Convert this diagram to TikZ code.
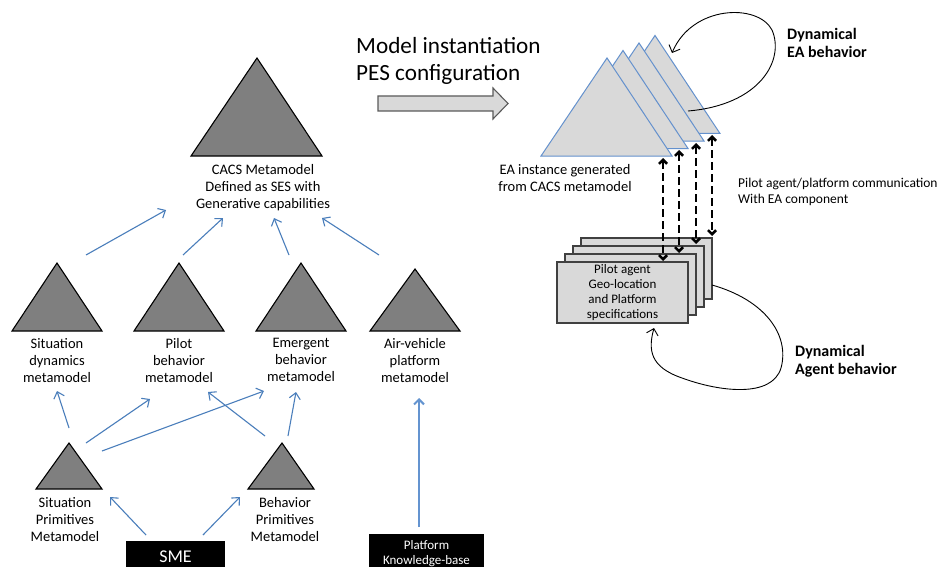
\documentclass[tikz,border=0pt]{standalone}
\usepackage{fontspec}
\setmainfont{Carlito}
\usetikzlibrary{arrows.meta}
\definecolor{arrblue}{RGB}{74,126,187}
\definecolor{lightblue}{RGB}{100,148,208}
\definecolor{tribl}{RGB}{100,145,205}
\definecolor{darkfill}{RGB}{127,127,127}
\definecolor{lightfill}{RGB}{217,217,217}
\definecolor{outl}{RGB}{64,64,64}
\definecolor{blkout}{RGB}{90,90,90}
\begin{document}
\begin{tikzpicture}[x=1pt,y=-1pt,
 darktri/.style={fill=darkfill,draw=black,line width=1.1pt},
 eatri/.style={fill=lightfill,draw=tribl,line width=1pt},
 link/.style={draw=arrblue,line width=1.1pt,-{Straight Barb[length=6pt,width=11pt]}},
 thicklink/.style={draw=lightblue,line width=2pt,-{Straight Barb[length=5pt,width=10pt]}},
 lbl/.style={align=center,inner sep=0pt,font=\fontsize{14.5}{17}\selectfont,anchor=north},
 boldlbl/.style={align=left,inner sep=0pt,font=\fontsize{16}{18.5}\selectfont\bfseries,anchor=north west},
 stackbox/.style={fill=lightfill,draw=outl,line width=1.1pt},
 comm/.style={black,line width=2.6pt,dash pattern=on 8pt off 4pt,{Straight Barb[length=4pt,width=8pt]}-{Straight Barb[length=4pt,width=8pt]}},
 loopline/.style={black,line width=0.9pt,-{Straight Barb[length=6pt,width=12pt]}}
]
\useasboundingbox (0,0) rectangle (939,567);
\fill[white] (0,0) rectangle (939,567);

% ---------- left: metamodel hierarchy ----------
\draw[darktri] (257,58) coordinate (cacsTop) -- (322,156) -- (191,156) -- cycle;
\node[lbl] (cacs) at (263,164) {CACS Metamodel\\Defined as SES with\\Generative capabilities};

\draw[darktri] (57,263) -- (102,331) -- (12,331) -- cycle;
\draw[darktri] (179,263) -- (224,331) -- (134,331) -- cycle;
\draw[darktri] (301,263) -- (346,331) -- (256,331) -- cycle;
\draw[darktri] (415,269) -- (460,331) -- (370,331) -- cycle;
\node[lbl] (sdm) at (57,338) {Situation\\dynamics\\metamodel};
\node[lbl] (pbm) at (179,338) {Pilot\\behavior\\metamodel};
\node[lbl] (ebm) at (301,338) {Emergent\\behavior\\metamodel};
\node[lbl] (avm) at (415,338) {Air-vehicle\\platform\\metamodel};

\draw[darktri] (69,443) -- (102,489) -- (36,489) -- cycle;
\draw[darktri] (282,443) -- (314,489) -- (248,489) -- cycle;
\node[lbl] (spm) at (65,497) {Situation\\Primitives\\Metamodel};
\node[lbl] (bpm) at (285,497) {Behavior\\Primitives\\Metamodel};

\fill[black] (126,541) rectangle (225,575);
\node[inner sep=0pt,text=white,font=\fontsize{18}{20}\selectfont] (sme) at (175.5,557) {SME};
\fill[black] (369,534) rectangle (484,575);
\node[inner sep=0pt,text=white,align=center,font=\fontsize{13}{15}\selectfont,anchor=north] (pkb) at (426.5,540) {Platform\\Knowledge-base};

% arrow end points
\coordinate (u1s) at (86,255);  \coordinate (u1e) at (166,210);
\coordinate (u2s) at (183,255); \coordinate (u2e) at (223,218);
\coordinate (u3s) at (289,255); \coordinate (u3e) at (274,218);
\coordinate (u4s) at (379,255); \coordinate (u4e) at (322,218);
\coordinate (m1s) at (69,428);  \coordinate (m1e) at (57,391);
\coordinate (m2s) at (86,443);  \coordinate (m2e) at (150,399);
\coordinate (m3s) at (102,451); \coordinate (m3e) at (264,391);
\coordinate (m4s) at (265,436); \coordinate (m4e) at (208,392);
\coordinate (m5s) at (288,436); \coordinate (m5e) at (296,392);
\coordinate (s1s) at (146,535); \coordinate (s1e) at (110,497);
\coordinate (s2s) at (203,535); \coordinate (s2e) at (240,497);
\foreach \a in {u1,u2,u3,u4,m1,m2,m3,m4,m5,s1,s2}
  \draw[link] (\a s) -- (\a e);
\coordinate (p1s) at (419,527); \coordinate (p1e) at (419,398);
\draw[thicklink] (p1s) -- (p1e);

% ---------- big arrow ----------
\node[inner sep=0pt,align=left,anchor=north west,font=\fontsize{23.2}{27}\selectfont] (inst) at (356,37) {Model instantiation\\PES configuration};
\draw[fill=lightfill,draw=blkout,line width=1.1pt] (378,96) -- (493,96) -- (493,88) -- (508,103.5) -- (493,119) -- (493,111) -- (378,111) -- cycle;

% ---------- EA triangles ----------
\foreach \k in {3,2,1,0}
  \draw[eatri] ({607+16*\k},{58-7.5*\k}) -- ({672+16*\k},{156-7.5*\k}) -- ({541+16*\k},{156-7.5*\k}) -- cycle;
\node[lbl] (eainst) at (565,164) {EA instance generated\\from CACS metamodel};
\node[boldlbl] (dyea) at (787,28) {Dynamical\\EA behavior};
\coordinate (eaStart) at (688,111);
\coordinate (eaEnd) at (672,53);
\draw[loopline] (eaStart) .. controls (760,105) and (785,60) .. (772,30) .. controls (758,3) and (692,5) .. (eaEnd);

\node[inner sep=0pt,align=left,anchor=north west,font=\fontsize{13.5}{16}\selectfont] (comm) at (738,178) {Pilot agent/platform communication\\With EA component};

% ---------- stacked agent boxes ----------
\foreach \k in {3,2,1}
  \draw[stackbox] ({557+8*\k},{262-8*\k}) rectangle ({688+8*\k},{323-8*\k});
\node[stackbox,minimum width=131pt,minimum height=61pt,inner sep=0pt,align=center,font=\fontsize{13}{15.3}\selectfont] (agent) at (622.5,292.5) {Pilot agent\\Geo-location\\and Platform\\specifications};

\coordinate (c1t) at (663,158); \coordinate (c1b) at (663,261);
\coordinate (c2t) at (679,150); \coordinate (c2b) at (679,253);
\coordinate (c3t) at (696,143); \coordinate (c3b) at (696,244);
\coordinate (c4t) at (712,135); \coordinate (c4b) at (712,236);
\foreach \c in {c1,c2,c3,c4}
  \draw[comm] (\c t) -- (\c b);

\coordinate (agStart) at (712,285);
\coordinate (agEnd) at (654,328);
\draw[loopline] (agStart) .. controls (765,300) and (790,335) .. (781,368) .. controls (772,398) and (720,392) .. (682,378) .. controls (650,367) and (648,350) .. (agEnd);
\node[boldlbl] (dyag) at (795,345) {Dynamical\\Agent behavior};
\end{tikzpicture}
\end{document}
